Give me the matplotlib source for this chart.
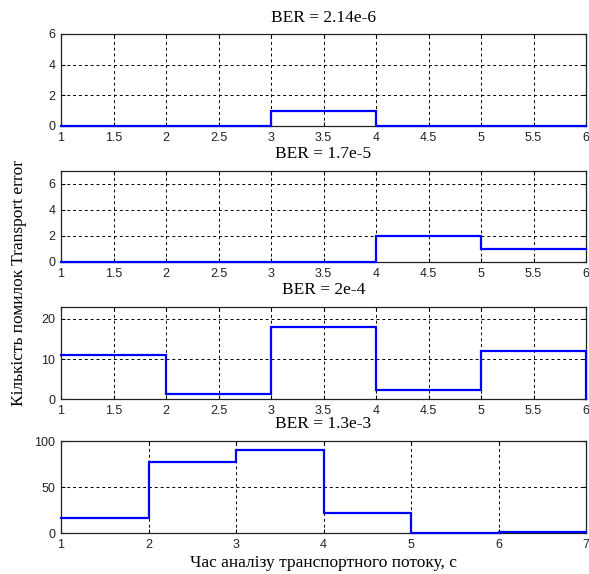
import matplotlib
matplotlib.use("Agg")
import matplotlib.pyplot as plt
import numpy as np

# data
titles = ["BER = 2.14e-6", "BER = 1.7e-5", "BER = 2e-4", "BER = 1.3e-3"]

t_short = [1, 2, 3, 4, 5, 6]
err_1 = [0, 0, 1, 0, 0, 0]
err_2 = [0, 0, 0, 2, 1, 1]
err_3 = [11, 1.2, 18, 2.3, 12, 0]

t_long = [1, 2, 3, 4, 5, 6, 7]
err_4 = [16, 77, 90, 22, 0, 1, 1]

xticks_short = [1, 1.5, 2, 2.5, 3, 3.5, 4, 4.5, 5, 5.5, 6]
xlabels_short = ["1", "1.5", "2", "2.5", "3", "3.5", "4", "4.5", "5", "5.5", "6"]
xticks_long = [1, 2, 3, 4, 5, 6, 7]
xlabels_long = ["1", "2", "3", "4", "5", "6", "7"]

yticks = [[0, 2, 4, 6], [0, 2, 4, 6], [0, 10, 20], [0, 50, 100]]
ylims = [(0, 6), (0, 7), (0, 23), (0, 100)]

ylabel = "Кількість помилок Transport error"
xlabel = "Час аналізу транспортного потоку, с"

SERIF = "Liberation Serif"
SANS = "Liberation Sans"

fig = plt.figure(figsize=(5.89, 5.74), dpi=100)

# axes boxes in pixels (left, top, right, bottom)
W, H = 589, 574
boxes = [
    (61, 34, 586, 126),
    (61, 171, 586, 262),
    (61, 307, 586, 399),
    (61, 441, 586, 533),
]

series = [
    (t_short, err_1, xticks_short, xlabels_short),
    (t_short, err_2, xticks_short, xlabels_short),
    (t_short, err_3, xticks_short, xlabels_short),
    (t_long, err_4, xticks_long, xlabels_long),
]

for i, (x, y, xt, xl) in enumerate(series):
    l, t, r, b = boxes[i]
    ax = fig.add_axes([l / W, 1 - b / H, (r - l) / W, (b - t) / H])

    ax.step(x, y, where="post", color="#0000ff", linewidth=1.6,
            solid_joinstyle="miter", clip_on=False, zorder=3)

    ax.set_xlim(x[0], x[-1])
    ax.set_ylim(*ylims[i])
    ax.set_xticks(xt)
    ax.set_xticklabels(xl)
    ax.set_yticks(yticks[i])

    ax.grid(True, color="black", linestyle=(0, (3, 3)), linewidth=0.7)
    ax.set_axisbelow(True)

    ax.tick_params(direction="in", length=3, width=0.8, labelsize=9,
                   top=True, right=True, colors="black")
    ax.tick_params(axis="x", pad=4)
    ax.tick_params(axis="y", pad=4)
    for lab in ax.get_xticklabels() + ax.get_yticklabels():
        lab.set_fontfamily(SANS)
        lab.set_color("#222222")
    for sp in ax.spines.values():
        sp.set_color("#222222")
        sp.set_linewidth(0.9)

    ax.set_title(titles[i], fontfamily=SERIF, fontsize=12.5, pad=9)

fig.text(19 / W, 1 - 283.5 / H, ylabel, rotation=90, fontfamily=SERIF,
         fontsize=12.5, ha="center", va="center")
fig.text(323 / W, 1 - 567 / H, xlabel, fontfamily=SERIF,
         fontsize=12.5, ha="center", va="baseline")

fig.savefig("out.png", dpi=100)
plt.close(fig)
